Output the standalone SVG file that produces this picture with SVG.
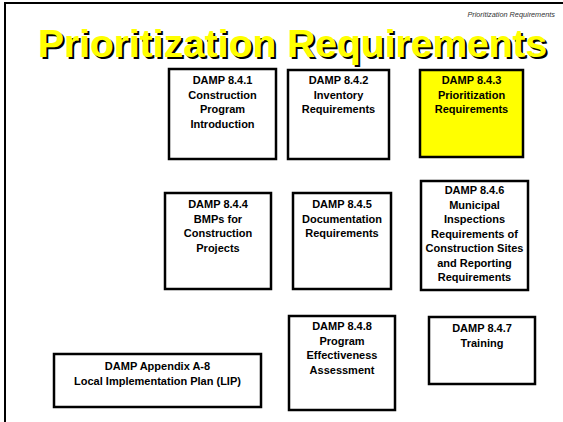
<svg xmlns="http://www.w3.org/2000/svg" width="563" height="422" viewBox="0 0 563 422">
<style>
.box{fill:#fff;stroke:#000;stroke-width:2.5}
.hl{fill:#ffff00}
.t{font-family:"Liberation Sans",Arial,sans-serif;font-weight:bold;font-size:11px;fill:#000;text-anchor:middle}
.title{font-family:"Liberation Sans",Arial,sans-serif;font-weight:bold;font-size:39px}
</style>
<rect width="563" height="422" fill="#fff"/>
<path d="M4 3 H563 M5 3 V422" stroke="#000" stroke-width="2" fill="none"/>
<text x="555" y="17" text-anchor="end" font-family="'Liberation Sans',Arial,sans-serif" font-style="italic" font-size="7.3" fill="#333">Prioritization Requirements</text>
<g id="title">
<text class="title" x="40" y="59" fill="#000">Prioritization Requirements</text>
<text class="title" x="38" y="57" fill="#ffff00">Prioritization Requirements</text>
</g>
<g id="connectors"></g>
<g id="n841"><rect class="box" x="169" y="69" width="107" height="90"/>
<text class="t" x="222.5"><tspan x="222.5" y="84">DAMP 8.4.1</tspan><tspan x="222.5" y="98.5">Construction</tspan><tspan x="222.5" y="113">Program</tspan><tspan x="222.5" y="127.5">Introduction</tspan></text></g>
<g id="n842"><rect class="box" x="288" y="70" width="101" height="89"/>
<text class="t"><tspan x="338.5" y="84">DAMP 8.4.2</tspan><tspan x="338.5" y="98.5">Inventory</tspan><tspan x="338.5" y="113">Requirements</tspan></text></g>
<g id="n843"><rect class="box hl" x="420" y="70" width="103" height="87"/>
<text class="t"><tspan x="471.5" y="84">DAMP 8.4.3</tspan><tspan x="471.5" y="98.5">Prioritization</tspan><tspan x="471.5" y="113">Requirements</tspan></text></g>
<g id="n844"><rect class="box" x="165" y="193" width="106" height="96"/>
<text class="t"><tspan x="218" y="208">DAMP 8.4.4</tspan><tspan x="218" y="222.5">BMPs for</tspan><tspan x="218" y="237">Construction</tspan><tspan x="218" y="251.5">Projects</tspan></text></g>
<g id="n845"><rect class="box" x="293" y="193" width="98" height="96"/>
<text class="t"><tspan x="342" y="208">DAMP 8.4.5</tspan><tspan x="342" y="222.5">Documentation</tspan><tspan x="342" y="237">Requirements</tspan></text></g>
<g id="n846"><rect class="box" x="421" y="181" width="107" height="109"/>
<text class="t"><tspan x="474.5" y="194">DAMP 8.4.6</tspan><tspan x="474.5" y="208.5">Municipal</tspan><tspan x="474.5" y="223">Inspections</tspan><tspan x="474.5" y="237.5">Requirements of</tspan><tspan x="474.5" y="252">Construction Sites</tspan><tspan x="474.5" y="266.5">and Reporting</tspan><tspan x="474.5" y="281">Requirements</tspan></text></g>
<g id="n848"><rect class="box" x="289" y="316" width="106" height="94"/>
<text class="t"><tspan x="342" y="330">DAMP 8.4.8</tspan><tspan x="342" y="344.5">Program</tspan><tspan x="342" y="359">Effectiveness</tspan><tspan x="342" y="373.5">Assessment</tspan></text></g>
<g id="n847"><rect class="box" x="429" y="317" width="106" height="67"/>
<text class="t"><tspan x="482" y="332">DAMP 8.4.7</tspan><tspan x="482" y="346.5">Training</tspan></text></g>
<g id="lip"><rect class="box" x="54" y="354" width="207" height="53"/>
<text class="t"><tspan x="157.5" y="370">DAMP  Appendix  A-8</tspan><tspan x="157.5" y="385">Local Implementation Plan (LIP)</tspan></text></g>
</svg>
